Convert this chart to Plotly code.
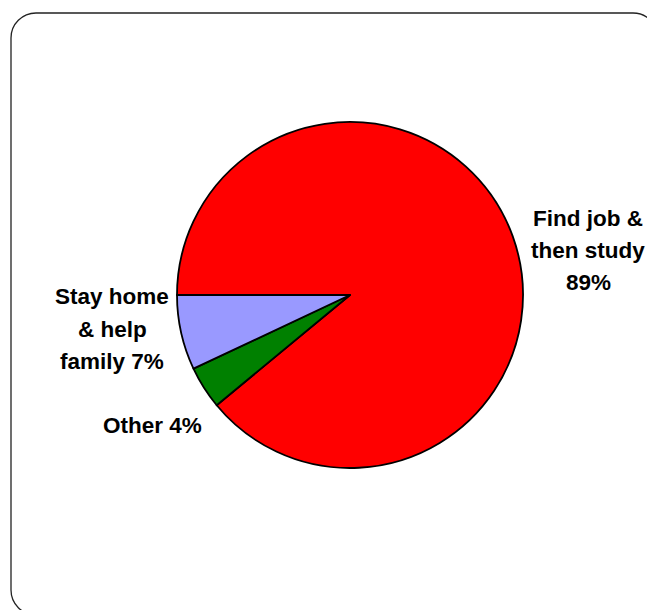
import plotly.graph_objects as go

# ---- data ----
labels = ["Find job & then study", "Other", "Stay home & help family"]
values = [89, 4, 7]
colors = ["#FF0000", "#008000", "#9999FF"]
label_lines = [["Find job &", "then study", "89%"], ["Other 4%"], ["Stay home", "& help", "family 7%"]]

# ---- layout helpers (pixels) ----
W, H = 647, 610
label_centers = [(588, 250), (152, 425), (112, 329)]
LINE_GAP = 32
FONT = dict(family="Liberation Sans, Arial, sans-serif", size=22.5, color="black", weight="bold")


def px(x):
    return x / W


def py(y):
    return 1 - y / H


fig = go.Figure()
fig.add_trace(go.Pie(
    labels=labels,
    values=values,
    marker=dict(colors=colors, line=dict(color="black", width=1.8)),
    sort=False,
    direction="clockwise",
    rotation=-90,
    textinfo="none",
    hoverinfo="label+percent",
    showlegend=False,
    domain=dict(x=[px(177), px(523)], y=[py(468), py(122)]),
))

annotations = []
for lines, (cx, cy) in zip(label_lines, label_centers):
    n = len(lines)
    for i, t in enumerate(lines):
        y = cy + (i - (n - 1) / 2) * LINE_GAP
        annotations.append(dict(
            text=t, x=px(cx), y=py(y), xref="paper", yref="paper",
            xanchor="center", yanchor="middle", showarrow=False, font=FONT,
        ))

# rounded border (partly outside the view)
L, T, R, B, r = 11, 13, 658, 615, 25
k = 0.5523 * r
pts = [
    ("M", [(L + r, T)]),
    ("L", [(R - r, T)]),
    ("C", [(R - r + k, T), (R, T + r - k), (R, T + r)]),
    ("L", [(R, B - r)]),
    ("C", [(R, B - r + k), (R - r + k, B), (R - r, B)]),
    ("L", [(L + r, B)]),
    ("C", [(L + r - k, B), (L, B - r + k), (L, B - r)]),
    ("L", [(L, T + r)]),
    ("C", [(L, T + r - k), (L + r - k, T), (L + r, T)]),
]
path = " ".join(cmd + " " + " ".join(f"{px(x):.5f},{py(y):.5f}" for x, y in p) for cmd, p in pts) + " Z"

fig.update_layout(
    width=W, height=H,
    margin=dict(l=0, r=0, t=0, b=0),
    paper_bgcolor="white",
    plot_bgcolor="white",
    annotations=annotations,
    shapes=[dict(type="path", path=path, xref="paper", yref="paper",
                 line=dict(color="#222222", width=1.3), fillcolor="rgba(0,0,0,0)")],
)

fig.write_html("out.html")
